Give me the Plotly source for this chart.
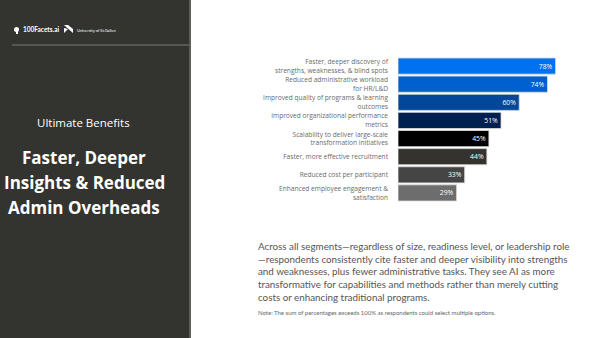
import plotly.graph_objects as go

categories = [
    "Faster, deeper discovery of<br>strengths, weaknesses, & blind spots",
    "Reduced administrative workload<br>for HR/L&D",
    "Improved quality of programs & learning<br>outcomes",
    "Improved organizational performance<br>metrics",
    "Scalability to deliver large-scale<br>transformation initiatives",
    "Faster, more effective recruitment",
    "Reduced cost per participant",
    "Enhanced employee engagement &<br>satisfaction",
]
values = [78, 74, 60, 51, 45, 44, 33, 29]
bar_colors = ["#0072ef", "#0060d0", "#02479a", "#00214f",
              "#000000", "#34332e", "#454545", "#6d6d6d"]

W, H = 600, 338

def px(x):
    return x / W

def py(y):
    return 1 - y / H

fig = go.Figure()
fig.add_trace(go.Bar(
    x=values, y=categories, orientation="h",
    marker=dict(color=bar_colors, line=dict(color="#dcdcdc", width=0.8)),
    text=[f"{v}%" for v in values],
    textposition="inside", insidetextanchor="end",
    textfont=dict(family="Open Sans, sans-serif", size=6.8, color="white"),
    constraintext="none",
    hoverinfo="skip",
))

fig.update_layout(
    width=W, height=H,
    margin=dict(l=0, r=0, t=0, b=0),
    paper_bgcolor="white", plot_bgcolor="white",
    showlegend=False,
    bargap=0.11,
    xaxis=dict(domain=[px(398), 1.0], range=[0, 100], visible=False, fixedrange=True),
    yaxis=dict(domain=[py(202), py(57)], autorange="reversed",
               showgrid=False, zeroline=False, showline=False,
               ticks="", ticklabelstandoff=9,
               tickfont=dict(family="Open Sans, sans-serif", size=6.6, color="#6a6a6a")),
    font=dict(family="Open Sans, sans-serif"),
)

shapes = [
    dict(type="rect", xref="paper", yref="paper", x0=0, x1=px(189), y0=0, y1=1,
         fillcolor="#33332f", line=dict(width=0), layer="below"),
    dict(type="rect", xref="paper", yref="paper", x0=px(189), x1=px(191), y0=0, y1=1,
         fillcolor="#5c5c58", line=dict(width=0), layer="below"),
    dict(type="line", xref="paper", yref="paper", x0=px(12), x1=px(189), y0=py(45), y1=py(45),
         line=dict(color="#7a7a76", width=1)),
    # logo marks
    dict(type="circle", xref="paper", yref="paper", x0=px(14), x1=px(19), y0=py(32), y1=py(27),
         fillcolor="white", line=dict(width=0)),
    dict(type="rect", xref="paper", yref="paper", x0=px(16), x1=px(18), y0=py(34), y1=py(29),
         fillcolor="white", line=dict(width=0)),
    dict(type="path", xref="paper", yref="paper",
         path=f"M {px(64)},{py(25)} L {px(73)},{py(33)} L {px(73)},{py(29)} L {px(68)},{py(25)} Z",
         fillcolor="white", line=dict(width=0)),
    dict(type="path", xref="paper", yref="paper",
         path=f"M {px(64)},{py(33)} L {px(68)},{py(29)} L {px(64)},{py(28)} Z",
         fillcolor="white", line=dict(width=0)),
]
fig.update_layout(shapes=shapes)

ann = []
ann.append(dict(x=px(21), y=py(29.5), xref="paper", yref="paper", xanchor="left", yanchor="middle",
                text="<b>100Facets.ai</b>", showarrow=False,
                font=dict(family="Lato, sans-serif", size=6.5, color="white")))
ann.append(dict(x=px(75), y=py(30), xref="paper", yref="paper", xanchor="left", yanchor="middle",
                text="University of St.Gallen", showarrow=False,
                font=dict(family="Lato, sans-serif", size=4, color="white")))
ann.append(dict(x=px(83), y=py(123), xref="paper", yref="paper", xanchor="center", yanchor="middle",
                text="Ultimate Benefits", showarrow=False,
                font=dict(family="Open Sans, sans-serif", size=11.5, color="white")))
for i, line in enumerate(["Faster, Deeper", "Insights & Reduced", "Admin Overheads"]):
    ann.append(dict(x=px(84), y=py(157 + 25 * i), xref="paper", yref="paper",
                    xanchor="center", yanchor="middle", text=f"<b>{line}</b>", showarrow=False,
                    font=dict(family="Open Sans, sans-serif", size=17, color="white")))

para = ("Across all segments—regardless of size, readiness level, or leadership role<br>"
        "—respondents consistently cite faster and deeper visibility into strengths<br>"
        "and weaknesses, plus fewer administrative tasks. They see AI as more<br>"
        "transformative for capabilities and methods rather than merely cutting<br>"
        "costs or enhancing traditional programs.")
ann.append(dict(x=px(256), y=py(238), xref="paper", yref="paper", xanchor="left", yanchor="top",
                align="left", text=para, showarrow=False,
                font=dict(family="Lato, sans-serif", size=9.8, color="#555555")))
ann.append(dict(x=px(256), y=py(312), xref="paper", yref="paper", xanchor="left", yanchor="middle",
                text="Note: The sum of percentages exceeds 100% as respondents could select multiple options.",
                showarrow=False, font=dict(family="Lato, sans-serif", size=6, color="#666666")))
fig.update_layout(annotations=ann)

fig.write_html("out.html", config={"displayModeBar": False})
